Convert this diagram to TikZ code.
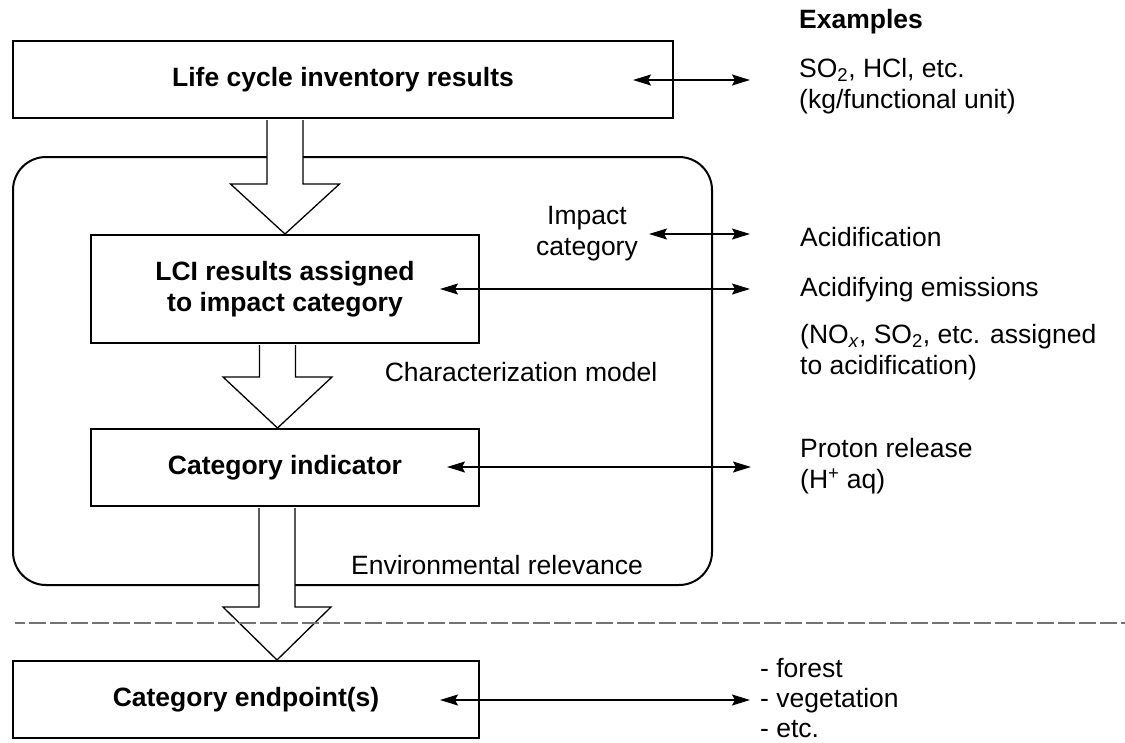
\documentclass[tikz,border=0pt]{standalone}
\usepackage{fontspec}
\setmainfont{Liberation Sans}
\usetikzlibrary{arrows.meta,calc}
\begin{document}
\begin{tikzpicture}[x=1pt,y=-1pt,
  font=\fontsize{26.5}{31}\selectfont,
  box/.style={draw, line width=2pt, fill=white, inner sep=0pt,
    font=\fontsize{26.5}{31}\selectfont\bfseries, align=center},
  frame/.style={draw, line width=2pt, rounded corners=33pt, inner sep=0pt},
  barrow/.style={draw, line width=1.3pt, fill=white, line join=miter},
  dbl/.style={{Stealth[length=18pt,width=11pt,inset=3pt]}-{Stealth[length=18pt,width=11pt,inset=3pt]}, line width=1.4pt},
  lbl/.style={anchor=west, inner sep=0pt, align=left},
  mid/.style={inner sep=0pt, align=center},
  sep/.style={draw=black!55, line width=2.5pt, dash pattern=on 17pt off 4pt, dash phase=7pt},
]
\useasboundingbox (0,0) rectangle (1125,742);

% rounded frame
\node[frame, minimum width=699pt, minimum height=428pt] (frm) at (362.5,371) {};

% boxes
\node[box, minimum width=660pt, minimum height=77pt] (top) at (343,79.5) {Life cycle inventory results};
\node[box, minimum width=388pt, minimum height=108pt] (lci) at (285,289) {LCI results assigned\\to impact category};
\node[box, minimum width=388pt, minimum height=77pt] (ind) at (285,467.5) {Category indicator};
\node[box, minimum width=466pt, minimum height=77pt] (end) at (246,699.5) {Category endpoint(s)};

% block arrows
\draw[barrow] let \p1=(top.south), \p2=(lci.north) in
  (\x2-18pt,\y1-1pt) -- (\x2-18pt,\y2+50pt) -- (\x2-54.5pt,\y2+50pt) -- (\x2,\y2)
  -- (\x2+54.5pt,\y2+50pt) -- (\x2+18pt,\y2+50pt) -- (\x2+18pt,\y1-1pt);
\draw[barrow] let \p1=(lci.south), \p2=(ind.north) in
  (\x2-25.5pt,\y1-1pt) -- (\x2-25.5pt,\y2+51pt) -- (\x2-62pt,\y2+51pt) -- (\x2-7.5pt,\y2)
  -- (\x2+47pt,\y2+51pt) -- (\x2+10.5pt,\y2+51pt) -- (\x2+10.5pt,\y1-1pt);
\draw[barrow] let \p1=(ind.south), \p2=(end.north) in
  (\x1-26pt,\y1-1pt) -- (\x1-26pt,\y2+53pt) -- (\x1-62pt,\y2+53pt) -- (\x1-8pt,\y2)
  -- (\x1+46pt,\y2+53pt) -- (\x1+10pt,\y2+53pt) -- (\x1+10pt,\y1-1pt);

% dashed separator
\coordinate (dl) at (15,623);
\coordinate (dr) at (1125,623);
\draw[sep] (dl) -- (dr);

% labels inside frame
\node[mid] (ic) at (587,234) {Impact\\category};
\node[mid] (cm) at (521,372) {Characterization model};
\node[mid] (er) at (497,565) {Environmental relevance};

% examples column
\node[lbl, font=\fontsize{26.5}{31}\selectfont\bfseries] (exh) at (799,22) {Examples};
\node[lbl] (ex1) at (799,86) {SO\textsubscript{2}, HCl, etc.\\(kg/functional unit)};
\node[lbl] (ex2) at (800,237) {Acidification};
\node[lbl] (ex3) at (800,290) {Acidifying emissions};
\node[lbl] (ex4) at (800,352) {(NO\textsubscript{\textit{x}}, SO\textsubscript{2}, etc. assigned\\to acidification)};
\node[lbl] (ex5) at (800,466) {Proton release\\(H\textsuperscript{+} aq)};
\node[lbl, font=\fontsize{26.5}{30}\selectfont] (ex6) at (760,698) {- forest\\- vegetation\\- etc.};

% double arrows
\coordinate (a1l) at (633,80);  \coordinate (a1r) at (750,80);
\coordinate (a2l) at (649,234); \coordinate (a2r) at (750,234);
\coordinate (a3l) at (440,289); \coordinate (a3r) at (750,289);
\coordinate (a4l) at (447,467); \coordinate (a4r) at (751,467);
\coordinate (a5l) at (440,700); \coordinate (a5r) at (750,700);
\draw[dbl] (a1l) -- (a1r);
\draw[dbl] (a2l) -- (a2r);
\draw[dbl] (a3l) -- (a3r);
\draw[dbl] (a4l) -- (a4r);
\draw[dbl] (a5l) -- (a5r);
\end{tikzpicture}
\end{document}
